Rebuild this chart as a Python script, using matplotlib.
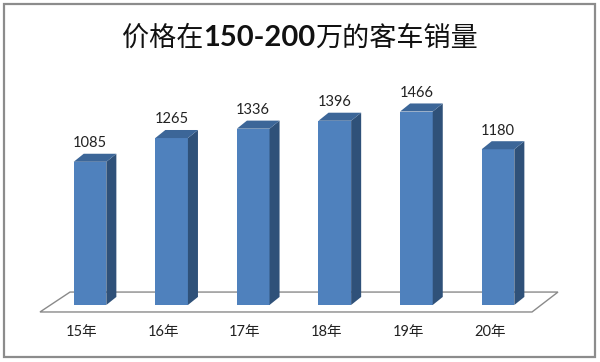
import matplotlib.pyplot as plt
from matplotlib.patches import Polygon, Rectangle
from matplotlib.offsetbox import TextArea, HPacker, AnchoredOffsetbox

plt.rcParams["font.family"] = ["Lato", "Noto Sans CJK SC", "DejaVu Sans"]

years = ["15年", "16年", "17年", "18年", "19年", "20年"]
sales = [1085, 1265, 1336, 1396, 1466, 1180]

front = "#4F81BD"
side = "#2F5179"
top = "#3C6698"

fig = plt.figure(figsize=(6, 3.62), dpi=100)
ax = fig.add_axes([0, 0, 1, 1])
ax.set_xlim(-1.103, 6.25)
ax.set_ylim(-432, 2311)
ax.axis("off")

# frame round the chart
fig.patches.append(Rectangle((0.007, 0.014), 0.985, 0.975, transform=fig.transFigure,
                             fill=False, edgecolor="#8c8c8c", lw=1.6))

# floor
floor = Polygon([(-0.613, -53), (5.417, -53), (5.735, 98), (-0.245, 98)],
                closed=True, facecolor="white", edgecolor="#8a8a8a", lw=1.0, zorder=1)
ax.add_patch(floor)

w = 0.40
dx, dy = 0.123, 61
for i, v in enumerate(sales):
    x0, x1 = i - w / 2, i + w / 2
    ax.add_patch(Polygon([(x0, 0), (x1, 0), (x1, v), (x0, v)], facecolor=front,
                         edgecolor="none", zorder=3))
    ax.add_patch(Polygon([(x1, 0), (x1 + dx, dy), (x1 + dx, v + dy), (x1, v)],
                         facecolor=side, edgecolor="none", zorder=3))
    ax.add_patch(Polygon([(x0, v), (x1, v), (x1 + dx, v + dy), (x0 + dx, v + dy)],
                         facecolor=top, edgecolor="none", zorder=3))
    ax.text(i, v + 88, str(v), ha="center", va="bottom", fontsize=10.5,
            color="#222222", zorder=4)
    ax.text(i - 0.1, -205, years[i], ha="center", va="center", fontsize=10.5,
            color="#222222")

# title with bold digits
tp = dict(fontsize=19.5, color="#111111", family=["Noto Sans CJK SC"])
parts = [TextArea("价格在", textprops=tp),
         TextArea("150-200", textprops=dict(fontsize=21, color="#111111", fontweight="bold",
                                            family=["Lato"])),
         TextArea("万的客车销量", textprops=tp)]
box = HPacker(children=parts, align="baseline", pad=0, sep=0)
anchored = AnchoredOffsetbox(loc="center", child=box, frameon=False,
                             bbox_to_anchor=(0.5, 0.895), bbox_transform=fig.transFigure,
                             borderpad=0)
ax.add_artist(anchored)

fig.savefig("out.png", dpi=100)
